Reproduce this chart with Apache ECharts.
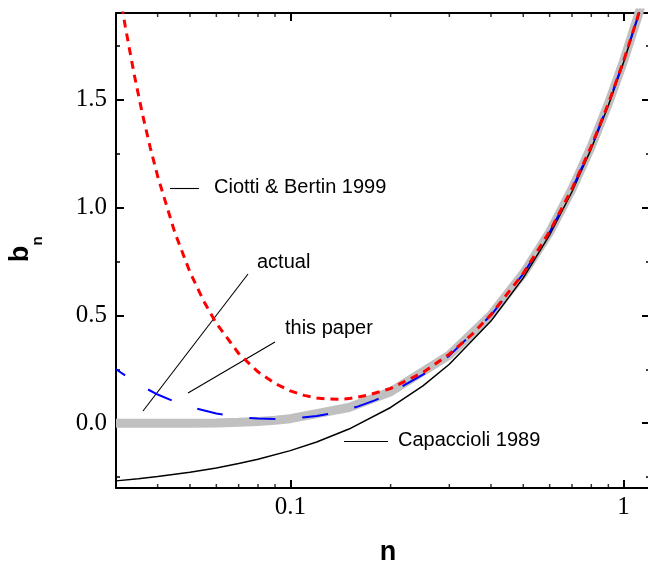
<!DOCTYPE html>
<html><head><meta charset="utf-8">
<script src="https://cdn.jsdelivr.net/npm/echarts@6/dist/echarts.min.js"></script>
<style>html,body{margin:0;padding:0;background:#fff}#c{width:648px;height:569px}</style>
</head><body><div id="c"></div>
<script>
// ---- data ----
const nCapaccioli = [0.03,0.035,0.04,0.05,0.06,0.07,0.08,0.1,0.12,0.15,0.2,0.25,0.3,0.4,0.5,0.6,0.7,0.8,0.9,1.0,1.1,1.2];
const bCapaccioli = [-0.267,-0.257,-0.247,-0.227,-0.207,-0.187,-0.167,-0.127,-0.087,-0.027,0.073,0.173,0.273,0.473,0.673,0.872,1.072,1.272,1.472,1.672,1.872,2.072];

const nCiotti = [0.03,0.031,0.032,0.034,0.036,0.038,0.04,0.045,0.05,0.055,0.06,0.07,0.08,0.09,0.1,0.11,0.12,0.13,0.14,0.15,0.17,0.2,0.25,0.3,0.35,0.4,0.5,0.6,0.7,0.8,0.9,1.0,1.1,1.2];
const bCiotti = [2.06,1.961,1.836,1.617,1.433,1.277,1.144,0.885,0.700,0.565,0.463,0.323,0.238,0.184,0.150,0.129,0.117,0.112,0.111,0.114,0.129,0.161,0.235,0.320,0.410,0.503,0.694,0.888,1.086,1.282,1.480,1.678,1.877,2.077];

const nThisPaper = [0.03,0.035,0.04,0.045,0.05,0.06,0.07,0.08,0.09,0.1,0.12,0.14,0.16,0.18,0.2,0.25,0.3,0.4,0.5,0.6,0.7,0.8,0.9,1.0,1.1,1.2];
const bThisPaper = [0.25,0.18,0.133,0.1,0.075,0.045,0.027,0.022,0.02,0.021,0.033,0.052,0.078,0.107,0.14,0.225,0.313,0.5,0.692,0.885,1.083,1.281,1.479,1.678,1.877,2.075];

const nActual = [0.03,0.04,0.05,0.06,0.07,0.08,0.09,0.1,0.15,0.2,0.3,0.4,0.5,0.6,0.7,0.8,0.9,1.0,1.1,1.2];
const bActual = [0.0,0.0,0.0001,0.0006,0.0044,0.0083,0.0137,0.021,0.073,0.146,0.316,0.501,0.693,0.885,1.084,1.282,1.480,1.678,1.877,2.076];

const xMajorLabels = [0.1, 1];
const xMinorTicks = [0.04,0.05,0.06,0.07,0.08,0.09,0.2,0.3,0.4,0.5,0.6,0.7,0.8,0.9];
const xMin = 0.03, xMax = 1.2;
const yMin = -0.3, yMax = 1.9;

const pairs = (xs, ys) => xs.map((x, i) => [x, ys[i]]);

const chart = echarts.init(document.getElementById('c'), null, {renderer: 'canvas'});
const serif = '"Liberation Serif", "Times New Roman", serif';
const sans = '"Liberation Sans", Arial, sans-serif';

const xLabelFmt = v => {
  for (const m of xMajorLabels) if (Math.abs(v - m) < 1e-9) return String(m);
  return '';
};
const yLabelFmt = v => (Math.abs(v * 2 - Math.round(v * 2)) < 1e-9 ? v.toFixed(1) : '');

const axisLine = {show: true, onZero: false, lineStyle: {color: '#000', width: 2}};
const majorTick = {show: true, inside: true, length: 8, lineStyle: {color: '#000', width: 2}};
const minorTickY = {show: true, splitNumber: 2, length: 4, lineStyle: {color: '#000', width: 1.5}};

const minorTickSeries = (yVal, off) => ({
  type: 'scatter', xAxisIndex: 0, yAxisIndex: 0, clip: false, silent: true,
  symbol: 'rect', symbolSize: [1.5, 4], symbolOffset: [0, off],
  itemStyle: {color: '#000'}, z: 5,
  data: xMinorTicks.map(v => [v, yVal])
});

const lead = (x1, y1, x2, y2) => ({type: 'line', shape: {x1, y1, x2, y2}, style: {stroke: '#000', lineWidth: 1.1}});
const note = (x, y, text) => ({type: 'text', x, y, style: {text, font: '20px ' + sans, fill: '#000', verticalAlign: 'middle'}});

chart.setOption({
  animation: false,
  backgroundColor: '#fff',
  grid: {left: 116, right: -2, top: 13, bottom: 81, containLabel: false, outerBoundsMode: 'none'},
  xAxis: [
    {type: 'log', min: xMin, max: xMax, position: 'bottom',
     axisLine, axisTick: majorTick, splitLine: {show: false},
     axisLabel: {formatter: xLabelFmt, margin: 7, color: '#000', fontFamily: serif, fontSize: 25}},
    {type: 'log', min: xMin, max: xMax, position: 'top',
     axisLine, axisTick: majorTick, splitLine: {show: false}, axisLabel: {show: false}}
  ],
  yAxis: [
    {type: 'value', min: yMin, max: yMax, splitNumber: 5, position: 'left',
     axisLine, axisTick: majorTick, minorTick: minorTickY, splitLine: {show: false},
     axisLabel: {formatter: yLabelFmt, margin: 9, color: '#000', fontFamily: serif, fontSize: 25}},
    {type: 'value', min: yMin, max: yMax, splitNumber: 5, position: 'right',
     axisLine, axisTick: majorTick, minorTick: minorTickY, splitLine: {show: false},
     axisLabel: {show: false}}
  ],
  series: [
    {name: 'actual', type: 'line', showSymbol: false, z: 1,
     lineStyle: {color: '#c0c0c0', width: 9}, data: pairs(nActual, bActual)},
    {name: 'Capaccioli 1989', type: 'line', showSymbol: false, z: 2,
     lineStyle: {color: '#000', width: 1.5}, data: pairs(nCapaccioli, bCapaccioli)},
    {name: 'this paper', type: 'line', showSymbol: false, z: 3,
     lineStyle: {color: '#0000ff', width: 2, type: [26, 27], dashOffset: 15}, data: pairs(nThisPaper, bThisPaper)},
    {name: 'Ciotti & Bertin 1999', type: 'line', showSymbol: false, z: 4,
     lineStyle: {color: '#ff0000', width: 3, type: [8, 6]}, data: pairs(nCiotti, bCiotti)},
    minorTickSeries(yMin, -2),
    minorTickSeries(yMax, 2)
  ],
  graphic: [
    lead(170, 188.5, 199, 188.5),
    note(214, 187, 'Ciotti & Bertin 1999'),
    lead(143, 411, 248, 274),
    note(257, 262, 'actual'),
    lead(188, 393, 275, 342),
    note(285, 328, 'this paper'),
    lead(344, 441.5, 388, 441.5),
    note(398, 440, 'Capaccioli 1989'),
    {type: 'text', x: 388, y: 553, style: {text: 'n', font: 'bold 27px ' + sans, fill: '#000', align: 'center', verticalAlign: 'middle'}},
    {type: 'text', x: 21, y: 254, rotation: Math.PI / 2, style: {text: 'b', font: 'bold 27px ' + sans, fill: '#000', align: 'center', verticalAlign: 'middle'}},
    {type: 'text', x: 38, y: 241, rotation: Math.PI / 2, style: {text: 'n', font: 'bold 15px ' + sans, fill: '#000', align: 'center', verticalAlign: 'middle'}}
  ]
});
</script>
</body></html>
